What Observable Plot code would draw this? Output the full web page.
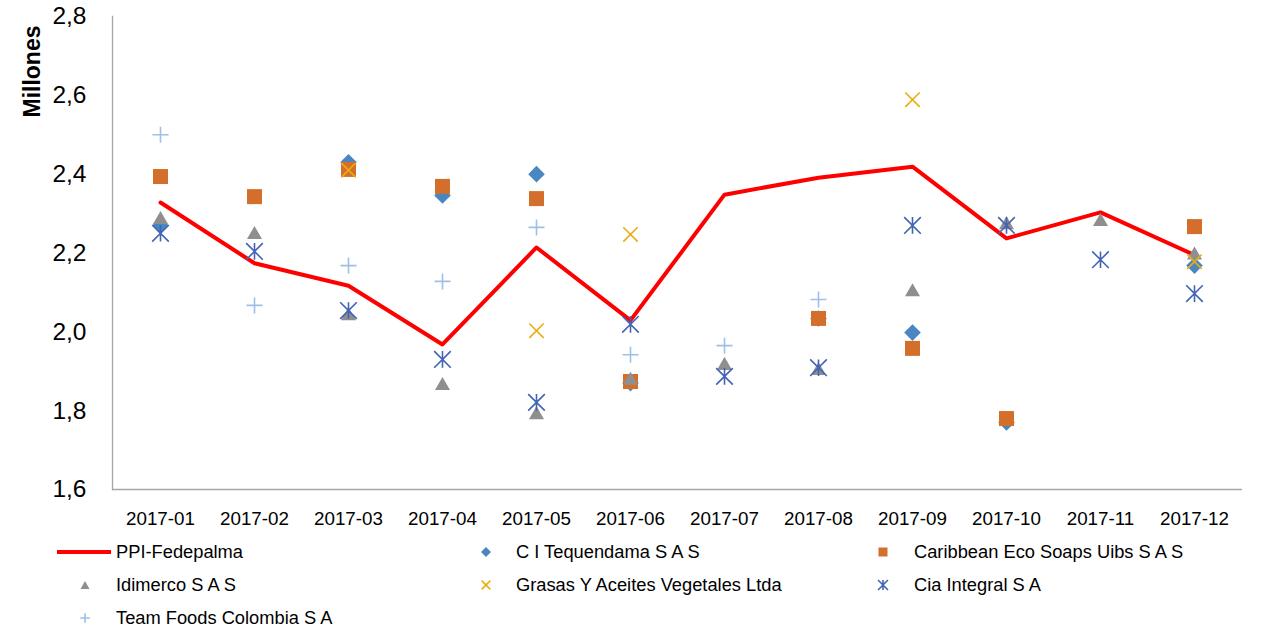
<!DOCTYPE html>
<html>
<head>
<meta charset="utf-8">
<script src="https://cdn.jsdelivr.net/npm/d3@7"></script>
<script src="https://cdn.jsdelivr.net/npm/@observablehq/plot@0.6"></script>
<style>
  html, body { margin: 0; padding: 0; background: #fff; }
  #wrap { position: relative; width: 1263px; height: 629px; overflow: hidden; font-family: "Liberation Sans", Arial, sans-serif; }
  #legend { position: absolute; left: 0; top: 530px; }
</style>
</head>
<body>
<div id="wrap"><div id="chart"></div><div id="legend"></div></div>
<script>
// ---- data ----
const months = ["2017-01","2017-02","2017-03","2017-04","2017-05","2017-06","2017-07","2017-08","2017-09","2017-10","2017-11","2017-12"];
const ppiFedepalma = [2.328, 2.174, 2.117, 1.968, 2.214, 2.029, 2.348, 2.391, 2.419, 2.237, 2.303, 2.195];
const tequendama   = [2.27, null, 2.43, 2.346, 2.40, 1.87, null, 2.034, 1.998, 1.77, null, 2.168];
const caribbean    = [2.394, 2.343, 2.412, 2.369, 2.338, 1.874, null, 2.034, 1.958, 1.78, null, 2.267];
const idimerco     = [2.29, 2.252, 2.046, 1.869, 1.795, 1.882, 1.92, 1.907, 2.107, 2.277, 2.285, 2.20];
const grasas       = [null, null, 2.41, null, 2.003, 2.247, null, null, 2.589, null, null, 2.178];
const ciaIntegral  = [2.25, 2.204, 2.054, 1.93, 1.821, 2.019, 1.887, 1.909, 2.27, 2.27, 2.183, 2.097];
const teamFoods    = [2.50, 2.067, 2.168, 2.128, 2.265, 1.942, 1.965, 2.082, null, null, null, null];
const yTicks = [1.6, 1.8, 2.0, 2.2, 2.4, 2.6, 2.8];
const yLabel = "Millones";

// ---- marker shapes (radius = half-width) ----
const sq = {draw(c, s) { const h = Math.sqrt(s / Math.PI); c.rect(-h, -h, 2 * h, 2 * h); }};
const dia = {draw(c, s) { const h = Math.sqrt(s / Math.PI); c.moveTo(0, -h); c.lineTo(h, 0); c.lineTo(0, h); c.lineTo(-h, 0); c.closePath(); }};
const tri = {draw(c, s) { const h = Math.sqrt(s / Math.PI); c.moveTo(0, -0.87 * h); c.lineTo(h, 0.87 * h); c.lineTo(-h, 0.87 * h); c.closePath(); }};
const times = {draw(c, s) { const h = Math.sqrt(s / Math.PI); c.moveTo(-h, -h); c.lineTo(h, h); c.moveTo(-h, h); c.lineTo(h, -h); }};
const star = {draw(c, s) { const h = Math.sqrt(s / Math.PI); c.moveTo(-h, -h); c.lineTo(h, h); c.moveTo(-h, h); c.lineTo(h, -h); c.moveTo(0, -h); c.lineTo(0, h); }};
const plus = {draw(c, s) { const h = Math.sqrt(s / Math.PI); c.moveTo(-h, 0); c.lineTo(h, 0); c.moveTo(0, -h); c.lineTo(0, h); }};

const series = [
  {name: "C I Tequendama S A S", values: tequendama, symbol: dia, r: 8.3, fill: "#4A86C1", stroke: "none", sw: 0},
  {name: "Caribbean Eco Soaps Uibs S A S", values: caribbean, symbol: sq, r: 7.5, fill: "#D36F2A", stroke: "none", sw: 0},
  {name: "Idimerco S A S", values: idimerco, symbol: tri, r: 7.5, fill: "#8F8F8F", stroke: "none", sw: 0},
  {name: "Grasas Y Aceites Vegetales Ltda", values: grasas, symbol: times, r: 7.2, fill: "none", stroke: "#E8AE12", sw: 1.6},
  {name: "Cia Integral S A", values: ciaIntegral, symbol: star, r: 8.3, fill: "none", stroke: "#4264B5", sw: 1.6},
  {name: "Team Foods Colombia S A", values: teamFoods, symbol: plus, r: 8, fill: "none", stroke: "#9EC0E6", sw: 1.6}
];

const lineRows = months.map((m, i) => ({month: m, value: ppiFedepalma[i]}));
const fmt = d => d.toFixed(1).replace(".", ",");
const FONT = "'Liberation Sans', Arial, sans-serif";

const chart = Plot.plot({
  width: 1263,
  height: 530,
  marginLeft: 112,
  marginRight: 21,
  marginTop: 16,
  marginBottom: 41,
  style: {fontFamily: FONT, background: "white", color: "#000", overflow: "visible"},
  x: {type: "point", domain: months, padding: 0.5, label: null},
  y: {domain: [1.6, 2.8], label: null},
  marks: [
    Plot.ruleY([1.6], {stroke: "#A6A6A6", strokeWidth: 1.3}),
    Plot.frame({anchor: "left", stroke: "#A6A6A6", strokeWidth: 1.3}),
    Plot.axisY({ticks: yTicks, tickSize: 0, tickPadding: 26, tickFormat: fmt, fontSize: 24.5, label: null}),
    Plot.axisX({tickSize: 0, tickPadding: 22, fontSize: 18.8, label: null}),
    Plot.line(lineRows, {x: "month", y: "value", stroke: "#FF0000", strokeWidth: 4}),
    ...series.map(s => Plot.dot(months.map((m, i) => ({month: m, value: s.values[i]})), {
      x: "month", y: "value", symbol: s.symbol, r: s.r, fill: s.fill, stroke: s.stroke, strokeWidth: s.sw
    })),
    Plot.text([yLabel], {frameAnchor: "top-left", text: d => d, rotate: -90, textAnchor: "end", lineAnchor: "middle", dx: -80, dy: 9, fontWeight: "bold", fontSize: 23})
  ]
});
document.getElementById("chart").appendChild(chart);

// ---- legend ----
const legendItems = [
  {name: "PPI-Fedepalma", line: true},
  series[0], series[1], series[2], series[3], series[4], series[5]
];
const colX = [{mk: 85, tx: 116}, {mk: 486, tx: 516}, {mk: 883, tx: 914}];
const rowY = [22, 55, 88];
const lg = d3.create("svg").attr("width", 1263).attr("height", 99)
  .style("font-family", FONT).style("font-size", "18.3px");
legendItems.forEach((it, i) => {
  const col = colX[i % 3], y = rowY[Math.floor(i / 3)];
  const g = lg.append("g");
  if (it.line) {
    g.append("line").attr("x1", 57).attr("x2", 111).attr("y1", y).attr("y2", y)
      .attr("stroke", "#FF0000").attr("stroke-width", 4);
  } else {
    const r = it.r * 0.6;
    g.append("path").attr("transform", `translate(${col.mk},${y})`)
      .attr("d", d3.symbol(it.symbol, Math.PI * r * r)())
      .attr("fill", it.fill).attr("stroke", it.stroke).attr("stroke-width", it.sw);
  }
  g.append("text").attr("x", col.tx).attr("y", y).attr("dy", "0.35em").attr("fill", "#000").text(it.name);
});
document.getElementById("legend").appendChild(lg.node());
</script>
</body>
</html>
